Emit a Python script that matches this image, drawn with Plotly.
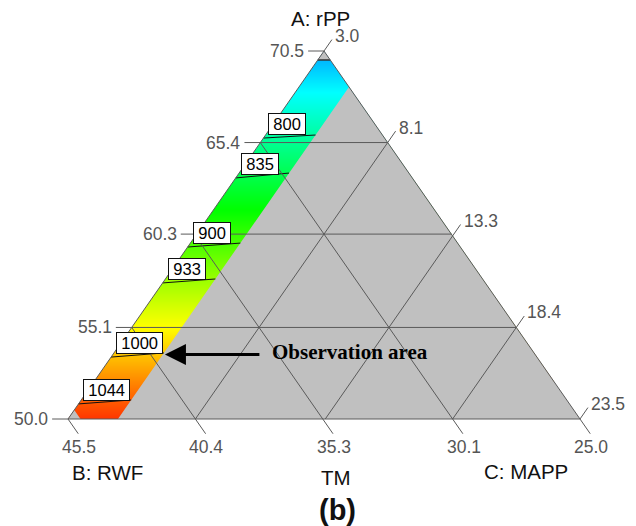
import plotly.graph_objects as go

# Three-component mixture: rPP + RWF + MAPP = 98.5 wt%
TOTAL = 98.5
A_MIN, B_MIN, C_MIN = 50.0, 25.0, 3.0
SPAN = TOTAL - A_MIN - B_MIN - C_MIN  # 20.5

# Axis ticks (rPP on the left edge, RWF along the base, MAPP on the right edge)
rpp_ticks = [50.0, 55.1, 60.3, 65.4, 70.5]
rwf_ticks = [45.5, 40.4, 35.3, 30.1, 25.0]
mapp_ticks = [3.0, 8.1, 13.3, 18.4, 23.5]
rpp_labels = ["50.0", "55.1", "60.3", "65.4", "70.5"]
rwf_labels = ["45.5", "40.4", "35.3", "30.1", "25.0"]
mapp_labels = ["3.0", "8.1", "13.3", "18.4", "23.5"]

# Upper bounds of the explored region
RPP_MAX, RWF_MAX, MAPP_MAX = 70.0, 45.0, 5.0

# TM response profile along the MAPP = 3.0 edge
profile_rpp = [50.0, 50.84, 53.45, 57.58, 59.58, 63.43, 65.65, 70.5]
profile_tm = [1058, 1044, 1000, 933, 900, 835, 800, 720]

# Labelled TM contours and the rPP level where each meets MAPP = 3.0 / MAPP = 5.0
contour_levels = [800, 835, 900, 933, 1000, 1044]
level_rpp_mapp_lo = [65.65, 63.43, 59.58, 57.58, 53.45, 50.84]
level_rpp_mapp_hi = [65.82, 63.70, 59.80, 57.80, 53.68, 51.06]

# ---------------------------------------------------------------------------
# geometry: B vertex at (0,0), C vertex at (1,0), A vertex at (0.5,1)
PX_LEFT, PX_BASE, PX_WIDTH, PX_HEIGHT = 68, 419, 512, 368
FIG_W, FIG_H = 636, 526


def to_xy(rpp, mapp):
    a = (rpp - A_MIN) / SPAN
    c = (mapp - C_MIN) / SPAN
    return c + a / 2.0, a


def point(rpp=None, rwf=None, mapp=None):
    # the missing component is whatever makes the total add up
    if rpp is None:
        rpp = TOTAL - rwf - mapp
    if mapp is None:
        mapp = TOTAL - rpp - rwf
    return to_xy(rpp, mapp)


def path(pts):
    xs, ys = [], []
    for p in pts:
        if p is None:
            xs.append(None)
            ys.append(None)
        else:
            xs.append(p[0])
            ys.append(p[1])
    return xs, ys


TICK_A, TICK_B, TICK_C = 0.031, 0.040, 0.031
GRID_COLOR = "#5a5a5a"
FILL_GREY = "#c0c0c0"
SANS = "Arial, Liberation Sans, sans-serif"

fig = go.Figure()

# smooth response colouring
hy = [to_xy(r, C_MIN)[1] for r in profile_rpp]
fig.add_trace(go.Heatmap(
    x=[-0.1, 0.6], y=hy, z=[[v, v] for v in profile_tm],
    zsmooth="best", zmin=650, zmax=1080, showscale=False, hoverinfo="skip",
    colorscale=[[0.0, "#0000ff"], [0.25, "#00ffff"], [0.5, "#00ff00"],
                [0.75, "#ffff00"], [1.0, "#ff0000"]],
))

# white outside the simplex
B_V, C_V, A_V = point(rpp=A_MIN, mapp=C_MIN), point(rpp=A_MIN, rwf=B_MIN), point(rwf=B_MIN, mapp=C_MIN)
outer = [(-0.5, -0.5), (-0.5, 1.5), (1.5, 1.5), (1.5, -0.5), (-0.5, -0.5)]
mx, my = path(outer + [B_V, C_V, A_V, B_V, (-0.5, -0.5)])
fig.add_trace(go.Scatter(x=mx, y=my, mode="lines", fill="toself", fillcolor="white",
                         line=dict(width=0), hoverinfo="skip", showlegend=False))

# grey where the region is not explored
grey = [
    point(rwf=B_MIN, mapp=MAPP_MAX), point(rpp=A_MIN, mapp=MAPP_MAX), C_V, None,
    point(rpp=RPP_MAX, mapp=C_MIN), point(rpp=RPP_MAX, rwf=B_MIN), A_V, None,
    point(rwf=RWF_MAX, mapp=C_MIN), point(rwf=RWF_MAX, rpp=A_MIN), B_V,
]
gx, gy = path(grey)
fig.add_trace(go.Scatter(x=gx, y=gy, mode="lines", fill="toself", fillcolor=FILL_GREY,
                         line=dict(width=0), hoverinfo="skip", showlegend=False))

# TM contour lines
cl = []
for lo, hi in zip(level_rpp_mapp_lo, level_rpp_mapp_hi):
    cl += [point(rpp=lo, mapp=C_MIN), point(rpp=hi, mapp=MAPP_MAX), None]
cx, cy = path(cl)
fig.add_trace(go.Scatter(x=cx, y=cy, mode="lines", line=dict(color="#111111", width=1),
                         hoverinfo="skip", showlegend=False))

# top boundary of the region
tx, ty = path([point(rpp=RPP_MAX, mapp=C_MIN), point(rpp=RPP_MAX, rwf=B_MIN)])
fig.add_trace(go.Scatter(x=tx, y=ty, mode="lines", line=dict(color="#333333", width=1.5),
                         hoverinfo="skip", showlegend=False))

# grid lines
grid = []
for r in rpp_ticks[1:-1]:
    grid += [point(rpp=r, mapp=C_MIN), point(rpp=r, rwf=B_MIN), None]
for w in rwf_ticks[1:-1]:
    grid += [point(rwf=w, rpp=A_MIN), point(rwf=w, mapp=C_MIN), None]
for m in mapp_ticks[1:-1]:
    grid += [point(mapp=m, rpp=A_MIN), point(mapp=m, rwf=B_MIN), None]
# tick marks
for r in rpp_ticks:
    grid += [point(rpp=r, mapp=C_MIN), to_xy(r, C_MIN - TICK_A * SPAN), None]
for w in rwf_ticks:
    grid += [point(rwf=w, rpp=A_MIN), point(rwf=w, rpp=A_MIN - TICK_B * SPAN), None]
for m in mapp_ticks:
    grid += [point(mapp=m, rwf=B_MIN), point(mapp=m, rwf=B_MIN - TICK_C * SPAN), None]
# outline
grid += [B_V, C_V, A_V, B_V]
lx, ly = path(grid)
fig.add_trace(go.Scatter(x=lx, y=ly, mode="lines", line=dict(color=GRID_COLOR, width=1),
                         hoverinfo="skip", showlegend=False))

ann = []
TICK_FONT = dict(family=SANS, size=17.5, color="#555555")
for r, t in zip(rpp_ticks, rpp_labels):
    x, y = point(rpp=r, mapp=C_MIN)
    ann.append(dict(x=x, y=y, text=t, showarrow=False, xanchor="right", yanchor="middle",
                    xshift=-18, font=TICK_FONT))
for w, t in zip(rwf_ticks, rwf_labels):
    x, y = point(rwf=w, rpp=A_MIN)
    ann.append(dict(x=x, y=y, text=t, showarrow=False, xanchor="center", yanchor="middle",
                    xshift=11, yshift=-28, font=TICK_FONT))
for m, t in zip(mapp_ticks, mapp_labels):
    x, y = point(mapp=m, rwf=B_MIN)
    ann.append(dict(x=x, y=y, text=t, showarrow=False, xanchor="left", yanchor="middle",
                    xshift=9, yshift=15, font=TICK_FONT))

TITLE_FONT = dict(family=SANS, size=20.5, color="#111111")
ann.append(dict(x=A_V[0], y=A_V[1], text="A: rPP", showarrow=False, xanchor="center",
                yanchor="middle", xshift=-4, yshift=33, font=TITLE_FONT))
ann.append(dict(x=B_V[0], y=B_V[1], text="B: RWF", showarrow=False, xanchor="center",
                yanchor="middle", xshift=39, yshift=-53, font=TITLE_FONT))
ann.append(dict(x=C_V[0], y=C_V[1], text="C: MAPP", showarrow=False, xanchor="center",
                yanchor="middle", xshift=-54, yshift=-52, font=TITLE_FONT))
ann.append(dict(x=0.5, y=0, text="TM", showarrow=False, xanchor="center",
                yanchor="middle", xshift=12, yshift=-58, font=TITLE_FONT))
ann.append(dict(x=0.5, y=0, text="<b>(b)</b>", showarrow=False, xanchor="center",
                yanchor="middle", xshift=13, yshift=-91,
                font=dict(family=SANS, size=29, color="#111111")))

# contour value boxes
THIN = "\u2009"
for lvl, lo in zip(contour_levels, level_rpp_mapp_lo):
    x, y = point(rpp=lo, mapp=C_MIN)
    ann.append(dict(x=x, y=y, text=THIN + str(lvl) + THIN, showarrow=False, xanchor="left",
                    yanchor="bottom", xshift=5, yshift=3, bgcolor="white",
                    bordercolor="#111111", borderwidth=1, borderpad=1,
                    font=dict(family=SANS, size=16.5, color="black")))

# observation area pointer
OBS_RPP = 53.6
ox, oy = point(rpp=OBS_RPP, mapp=MAPP_MAX)
ann.append(dict(x=ox, y=oy, text="", showarrow=True, ax=98, ay=0, arrowhead=2,
                arrowsize=1.4, arrowwidth=3, arrowcolor="black", standoff=2))
ann.append(dict(x=ox, y=oy, text="<b>Observation area</b>", showarrow=False, xanchor="left",
                yanchor="middle", xshift=107, yshift=2,
                font=dict(family="Times New Roman, Liberation Serif, serif", size=21, color="black")))

fig.update_layout(
    width=FIG_W, height=FIG_H, margin=dict(l=0, r=0, t=0, b=0),
    paper_bgcolor="white", plot_bgcolor="white", showlegend=False,
    xaxis=dict(visible=False, range=[-PX_LEFT / PX_WIDTH, (FIG_W - PX_LEFT) / PX_WIDTH], fixedrange=True),
    yaxis=dict(visible=False, range=[-(FIG_H - PX_BASE) / PX_HEIGHT, PX_BASE / PX_HEIGHT], fixedrange=True),
    annotations=ann,
)

fig.write_html("out.html")
